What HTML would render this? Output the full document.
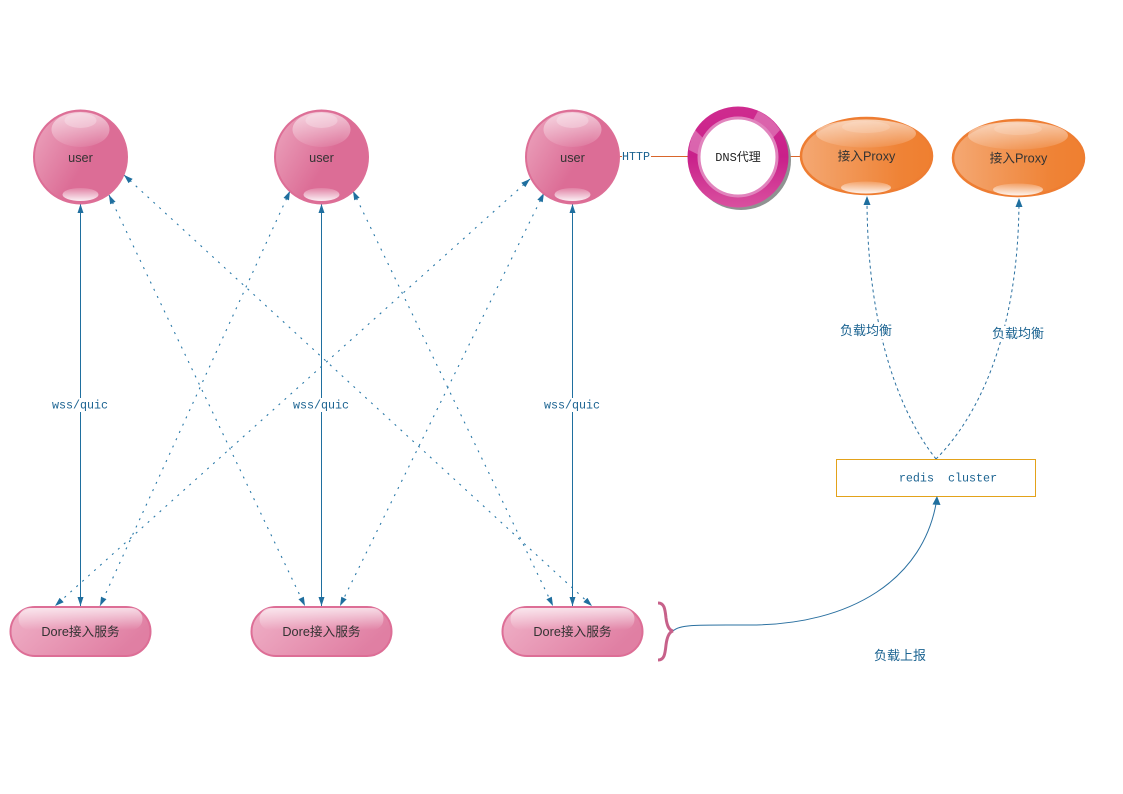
<!DOCTYPE html>
<html><head><meta charset="utf-8">
<style>
html,body{margin:0;padding:0;background:#fff;width:1123px;height:794px;overflow:hidden}
svg{display:block}
.t{font-family:"Liberation Sans","Noto Sans CJK SC",sans-serif;font-size:12.7px;fill:#333;text-anchor:middle}
.m{font-family:"Liberation Mono","Noto Sans CJK SC",monospace;font-size:11.7px;fill:#1b6391;text-anchor:middle}
.c{font-family:"Liberation Sans","Noto Sans CJK SC",sans-serif;font-size:13px;fill:#1b6391;text-anchor:middle}
.d{fill:none;stroke:#2a79a8;stroke-width:1.1;stroke-dasharray:2 6;marker-start:url(#a);marker-end:url(#a)}
.s{fill:none;stroke:#1f6f9f;stroke-width:1;marker-start:url(#a);marker-end:url(#a)}
.q{fill:none;stroke:#2a70a0;stroke-width:1;stroke-dasharray:3 3}
</style></head><body>
<svg width="1123" height="794" viewBox="0 0 1123 794" xmlns="http://www.w3.org/2000/svg">
<defs>
<marker id="a" markerWidth="10" markerHeight="8" refX="9" refY="4" orient="auto-start-reverse" markerUnits="userSpaceOnUse"><path d="M0 1L9 4L0 7Z" fill="#1f6f9f"/></marker>
<linearGradient id="pk" x1="0" y1="0" x2="1" y2="0.6"><stop offset="0" stop-color="#eda8c0"/><stop offset=".65" stop-color="#dc6d96"/><stop offset="1" stop-color="#dc6d96"/></linearGradient>
<linearGradient id="pl" x1="0" y1="0" x2="1" y2="0.4"><stop offset="0" stop-color="#f0b2c8"/><stop offset="1" stop-color="#e07fa3"/></linearGradient>
<linearGradient id="or" x1="0" y1="0" x2="1" y2="0"><stop offset="0" stop-color="#f4a873"/><stop offset=".75" stop-color="#ef8336"/><stop offset="1" stop-color="#ef7f30"/></linearGradient>
<linearGradient id="gl" x1="0" y1="0" x2="0" y2="1"><stop offset="0" stop-color="#fff" stop-opacity=".6"/><stop offset="1" stop-color="#fff" stop-opacity=".08"/></linearGradient>
<linearGradient id="gp" x1="0" y1="0" x2="0" y2="1"><stop offset="0" stop-color="#fff" stop-opacity=".7"/><stop offset="1" stop-color="#fff" stop-opacity="0"/></linearGradient>
<linearGradient id="gb" x1="0" y1="1" x2="0" y2="0"><stop offset="0" stop-color="#fff" stop-opacity=".9"/><stop offset="1" stop-color="#fff" stop-opacity=".15"/></linearGradient>
<linearGradient id="rg" x1="0" y1="0" x2="0" y2="1"><stop offset="0" stop-color="#cf2b8f"/><stop offset=".5" stop-color="#c9208a"/><stop offset="1" stop-color="#d9509f"/></linearGradient>
<g id="user">
<circle r="46.5" fill="url(#pk)" stroke="#dd6e96" stroke-width="2"/>
<ellipse cx="0" cy="-27.500" rx="29" ry="17.500" fill="url(#gl)"/>
<ellipse cx="0" cy="-36.500" rx="16" ry="7.500" fill="#fff" fill-opacity=".25"/>
<ellipse cx="0" cy="37.500" rx="18" ry="6.500" fill="url(#gb)"/>
</g>
<g id="pill">
<rect x="-70" y="-24.500" width="140" height="49" rx="24.500" fill="url(#pl)" stroke="#dd6e96" stroke-width="2"/>
<rect x="-62" y="-23.500" width="124" height="22" rx="11" fill="url(#gp)"/>
</g>
<g id="ell">
<ellipse rx="65.500" ry="38" fill="url(#or)" stroke="#ee7d32" stroke-width="2.500"/>
<ellipse cx="-0.500" cy="-22.500" rx="50" ry="14" fill="url(#gl)"/>
<ellipse cx="-0.500" cy="-29" rx="24" ry="6" fill="#fff" fill-opacity=".15"/>
<ellipse cx="-0.500" cy="31.500" rx="25" ry="6" fill="url(#gb)"/>
</g>
</defs>

<!-- dotted connectors -->
<line class="d" x1="124" y1="175" x2="592" y2="606"/>
<line class="d" x1="109" y1="195" x2="305" y2="606"/>
<line class="d" x1="290" y1="191" x2="100" y2="606"/>
<line class="d" x1="353" y1="191" x2="553" y2="606"/>
<line class="d" x1="530" y1="179" x2="55" y2="606"/>
<line class="d" x1="544" y1="193" x2="340" y2="606"/>

<!-- vertical solid -->
<line class="s" x1="80.500" y1="204" x2="80.500" y2="606"/>
<line class="s" x1="321.500" y1="204" x2="321.500" y2="606"/>
<line class="s" x1="572.500" y1="204" x2="572.500" y2="606"/>

<!-- orange lines -->
<line x1="620" y1="156.500" x2="690" y2="156.500" stroke="#d9662b" stroke-width="1"/>
<line x1="785" y1="156.500" x2="803" y2="156.500" stroke="#d9662b" stroke-width="1"/>

<!-- nodes -->
<use href="#user" x="80.500" y="157"/>
<use href="#user" x="321.500" y="157"/>
<use href="#user" x="572.500" y="157"/>
<text class="t" x="80.500" y="162">user</text>
<text class="t" x="321.500" y="162">user</text>
<text class="t" x="572.500" y="162">user</text>

<use href="#pill" x="80.500" y="631.500"/>
<use href="#pill" x="321.500" y="631.500"/>
<use href="#pill" x="572.500" y="631.500"/>
<text class="t" x="80.500" y="636">Dore接入服务</text>
<text class="t" x="321.500" y="636">Dore接入服务</text>
<text class="t" x="572.500" y="636">Dore接入服务</text>

<!-- DNS -->
<circle cx="741" cy="160" r="50" fill="#8f9392"/>
<circle cx="738" cy="157" r="50.500" fill="url(#rg)"/>
<path d="M758 111A50 50 0 0 1 780 130L771 140A38 38 0 0 0 752 122Z" fill="#fff" fill-opacity=".28"/>
<path d="M689 150A50 50 0 0 1 695 130L705 140A38 38 0 0 0 699 155Z" fill="#fff" fill-opacity=".3"/>
<circle cx="738" cy="157" r="39" fill="#fff" stroke="#e184bd" stroke-width="3"/>
<text x="738" y="161" text-anchor="middle" style="font-family:'Liberation Mono','Noto Sans CJK SC',monospace;font-size:12px" fill="#222">DNS代理</text>

<!-- proxies -->
<use href="#ell" x="866.500" y="156"/>
<use href="#ell" x="1018.500" y="158"/>
<text class="t" x="866.500" y="160.500">接入Proxy</text>
<text class="t" x="1018.500" y="162.500">接入Proxy</text>

<!-- curves -->
<path class="q" d="M936 459C905 420 867 340 867 198"/>
<path class="q" d="M936 459C975 420 1019 340 1019 198"/>
<path d="M867 196l-3.500 9h7z" fill="#1f6f9f"/>
<path d="M1019 198l-3.500 9h7z" fill="#1f6f9f"/>
<rect x="836.500" y="459.500" width="199" height="37" fill="#fff" stroke="#e3a21a" stroke-width="1"/>
<text x="948" y="481.500" class="m" xml:space="preserve">redis  cluster</text>

<!-- brace -->
<path d="M673 631C680 624 700 625 750 625C850 625 925 580 937 498" fill="none" stroke="#2a70a0" stroke-width="1"/>
<path d="M658 603C664 603 665 608 666 618C667 626 669 630 673 631C669 632 667 637 666 645C665 655 664 660 658 660" fill="none" stroke="#c7618a" stroke-width="3"/>
<path d="M937 496l-4.500 8.500 8 0.500z" fill="#1f6f9f"/>

<!-- labels -->
<rect x="51" y="398" width="58" height="14" fill="#fff"/>
<rect x="292" y="398" width="58" height="14" fill="#fff"/>
<rect x="543" y="398" width="58" height="14" fill="#fff"/>
<text class="m" x="80" y="408.500">wss/quic</text>
<text class="m" x="321" y="408.500">wss/quic</text>
<text class="m" x="572" y="408.500">wss/quic</text>
<rect x="622" y="150" width="29" height="13" fill="#fff"/>
<text class="m" x="636" y="160">HTTP</text>

<rect x="838" y="323" width="56" height="16" fill="#fff"/>
<rect x="990" y="326" width="56" height="16" fill="#fff"/>
<text class="c" x="866" y="335">负载均衡</text>
<text class="c" x="1018" y="338">负载均衡</text>
<text class="c" x="900" y="660">负载上报</text>
</svg>
</body></html>
